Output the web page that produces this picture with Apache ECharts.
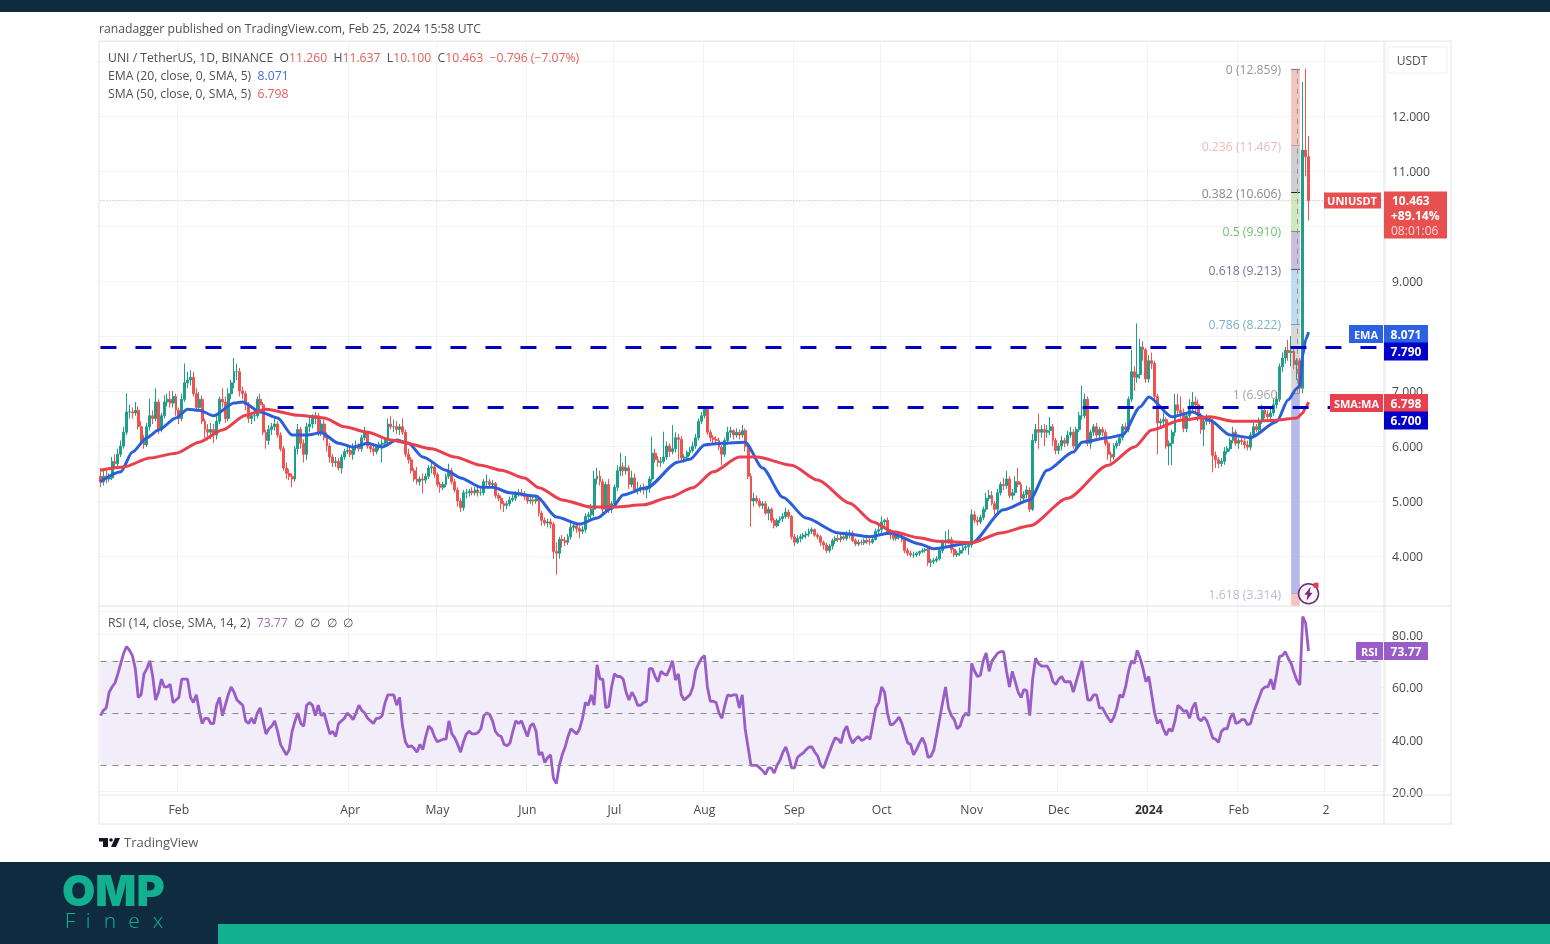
<!DOCTYPE html>
<html>
<head>
<meta charset="utf-8">
<title>UNI / TetherUS</title>
<script src="https://cdn.jsdelivr.net/npm/echarts@6/dist/echarts.min.js"></script>
<style>
  html, body { margin: 0; padding: 0; background: #fff; }
  #chart { width: 1550px; height: 944px; }
</style>
</head>
<body>
<div id="chart"></div>
<script>
// daily candles from 2023-01-05
const opens = [
  5.45,5.35,5.45,5.40,5.42,5.72,5.68,5.85,6.00,6.25,
  6.62,6.62,6.60,6.65,6.35,6.08,6.02,6.35,6.55,6.50,
  6.80,6.30,6.55,6.80,6.85,6.78,6.90,6.65,6.50,6.85,
  7.15,7.20,7.25,6.95,6.70,6.85,6.45,6.30,6.25,6.30,
  6.20,6.45,6.85,6.80,6.50,6.95,7.15,7.35,7.35,7.00,
  6.95,6.75,6.50,6.55,6.55,6.85,6.75,6.25,6.10,6.30,
  6.35,6.40,6.20,5.95,5.60,5.50,5.45,5.40,5.95,6.30,
  6.05,5.85,6.35,6.40,6.50,6.55,6.25,6.40,6.15,6.00,
  5.80,5.70,5.72,5.60,5.80,5.90,5.92,5.85,5.98,6.00,
  5.95,6.15,6.25,6.00,5.95,5.90,5.98,6.03,6.05,6.10,
  6.40,6.35,6.35,6.30,6.35,6.25,5.85,5.75,5.55,5.40,
  5.35,5.40,5.38,5.45,5.60,5.62,5.48,5.30,5.25,5.30,
  5.45,5.55,5.35,5.20,5.00,4.88,5.15,5.15,5.18,5.15,
  5.20,5.15,5.15,5.35,5.35,5.30,5.32,5.10,5.05,4.95,
  4.92,4.95,5.02,5.05,5.13,5.15,5.12,5.08,5.00,5.02,
  5.00,5.05,4.78,4.65,4.60,4.62,4.58,4.08,4.05,4.30,
  4.28,4.25,4.35,4.52,4.55,4.50,4.45,4.48,4.72,4.75,
  4.85,5.40,5.45,5.35,4.85,5.30,4.85,4.95,5.25,5.55,
  5.62,5.55,5.60,5.30,5.42,5.20,5.22,5.25,5.20,5.23,
  5.40,5.87,5.75,5.70,5.72,5.80,6.00,5.90,5.95,6.15,
  6.12,5.78,5.80,5.88,5.92,6.00,6.15,6.45,6.55,6.68,
  6.25,6.15,6.12,6.10,5.98,5.85,6.10,6.25,6.28,6.20,
  6.25,6.20,6.28,5.99,5.45,5.00,5.05,5.00,4.92,4.95,
  4.78,4.85,4.65,4.55,4.65,4.68,4.72,4.80,4.72,4.35,
  4.25,4.32,4.35,4.38,4.40,4.45,4.48,4.38,4.35,4.25,
  4.20,4.10,4.18,4.28,4.32,4.30,4.35,4.32,4.38,4.42,
  4.28,4.22,4.25,4.24,4.28,4.26,4.25,4.30,4.45,4.48,
  4.62,4.65,4.42,4.38,4.32,4.36,4.38,4.30,4.10,4.05,
  4.02,4.02,4.05,4.08,4.10,4.12,3.88,3.90,3.92,3.95,
  4.10,4.25,4.28,4.30,4.12,4.02,4.05,4.10,4.15,4.17,
  4.20,4.75,4.65,4.62,4.70,4.85,5.05,5.10,4.95,4.85,
  5.15,5.30,5.28,5.40,5.10,5.15,5.35,5.30,5.05,5.12,
  5.20,4.85,6.10,6.30,6.25,6.30,6.25,6.28,6.35,6.10,
  5.92,6.00,6.10,6.05,6.20,6.25,6.00,6.30,6.55,6.55,
  6.85,6.05,6.25,6.35,6.20,6.30,6.25,6.05,5.85,5.80,
  6.00,6.05,6.15,6.35,6.30,6.85,7.35,7.25,7.30,7.80,
  7.75,7.22,7.55,7.50,6.90,6.42,6.45,6.48,6.00,6.05,
  6.25,6.75,6.65,6.60,6.32,6.55,6.70,6.80,6.75,6.55,
  6.30,6.45,6.50,6.45,5.83,5.75,5.68,5.72,5.90,5.95,
  6.10,6.25,6.05,6.10,6.08,6.02,5.98,6.20,6.35,6.30,
  6.45,6.65,6.58,6.53,6.60,6.75,6.85,7.44,7.60,7.74,
  7.70,7.72,7.48,7.55,7.05,11.38,11.26
]
const closes = [
  5.35,5.45,5.40,5.42,5.72,5.68,5.85,6.00,6.25,6.62,
  6.62,6.60,6.65,6.35,6.08,6.02,6.35,6.55,6.50,6.80,
  6.30,6.55,6.80,6.85,6.78,6.90,6.65,6.50,6.85,7.15,
  7.20,7.25,6.95,6.70,6.85,6.45,6.30,6.25,6.30,6.20,
  6.45,6.85,6.80,6.50,6.95,7.15,7.35,7.35,7.00,6.95,
  6.75,6.50,6.55,6.55,6.85,6.75,6.25,6.10,6.30,6.35,
  6.40,6.20,5.95,5.60,5.50,5.45,5.40,5.95,6.30,6.05,
  5.85,6.35,6.40,6.50,6.55,6.25,6.40,6.15,6.00,5.80,
  5.70,5.72,5.60,5.80,5.90,5.92,5.85,5.98,6.00,5.95,
  6.15,6.25,6.00,5.95,5.90,5.98,6.03,6.05,6.10,6.40,
  6.35,6.35,6.30,6.35,6.25,5.85,5.75,5.55,5.40,5.35,
  5.40,5.38,5.45,5.60,5.62,5.48,5.30,5.25,5.30,5.45,
  5.55,5.35,5.20,5.00,4.88,5.15,5.15,5.18,5.15,5.20,
  5.15,5.15,5.35,5.35,5.30,5.32,5.10,5.05,4.95,4.92,
  4.95,5.02,5.05,5.13,5.15,5.12,5.08,5.00,5.02,5.00,
  5.05,4.78,4.65,4.60,4.62,4.58,4.08,4.05,4.30,4.28,
  4.25,4.35,4.52,4.55,4.50,4.45,4.48,4.72,4.75,4.85,
  5.40,5.45,5.35,4.85,5.30,4.85,4.95,5.25,5.55,5.62,
  5.55,5.60,5.30,5.42,5.20,5.22,5.25,5.20,5.23,5.40,
  5.87,5.75,5.70,5.72,5.80,6.00,5.90,5.95,6.15,6.12,
  5.78,5.80,5.88,5.92,6.00,6.15,6.45,6.55,6.68,6.25,
  6.15,6.12,6.10,5.98,5.85,6.10,6.25,6.28,6.20,6.25,
  6.20,6.28,5.99,5.45,5.00,5.05,5.00,4.92,4.95,4.78,
  4.85,4.65,4.55,4.65,4.68,4.72,4.80,4.72,4.35,4.25,
  4.32,4.35,4.38,4.40,4.45,4.48,4.38,4.35,4.25,4.20,
  4.10,4.18,4.28,4.32,4.30,4.35,4.32,4.38,4.42,4.28,
  4.22,4.25,4.24,4.28,4.26,4.25,4.30,4.45,4.48,4.62,
  4.65,4.42,4.38,4.32,4.36,4.38,4.30,4.10,4.05,4.02,
  4.02,4.05,4.08,4.10,4.12,3.88,3.90,3.92,3.95,4.10,
  4.25,4.28,4.30,4.12,4.02,4.05,4.10,4.15,4.17,4.20,
  4.75,4.65,4.62,4.70,4.85,5.05,5.10,4.95,4.85,5.15,
  5.30,5.28,5.40,5.10,5.15,5.35,5.30,5.05,5.12,5.20,
  4.85,6.10,6.30,6.25,6.30,6.25,6.28,6.35,6.10,5.92,
  6.00,6.10,6.05,6.20,6.25,6.00,6.30,6.55,6.55,6.85,
  6.05,6.25,6.35,6.20,6.30,6.25,6.05,5.85,5.80,6.00,
  6.05,6.15,6.35,6.30,6.85,7.35,7.25,7.30,7.80,7.75,
  7.22,7.55,7.50,6.90,6.42,6.45,6.48,6.00,6.05,6.25,
  6.75,6.65,6.60,6.32,6.55,6.70,6.80,6.75,6.55,6.30,
  6.45,6.50,6.45,5.83,5.75,5.68,5.72,5.90,5.95,6.10,
  6.25,6.05,6.10,6.08,6.02,5.98,6.20,6.35,6.30,6.45,
  6.65,6.58,6.53,6.60,6.75,6.85,7.44,7.60,7.74,7.70,
  7.72,7.48,7.55,7.05,11.38,11.26,10.463
]
const highs = [
  5.60,5.55,5.55,5.50,5.80,5.85,5.95,6.10,6.35,6.96,
  6.75,6.70,6.80,6.72,6.45,6.20,6.42,6.86,6.65,7.05,
  6.85,6.60,6.92,6.95,7.00,7.00,6.95,6.70,6.95,7.50,
  7.35,7.38,7.35,7.05,6.98,6.92,6.50,6.40,6.42,6.40,
  6.55,6.90,7.05,6.90,7.05,7.20,7.60,7.50,7.42,7.08,
  7.00,6.80,6.62,6.65,6.90,6.95,6.80,6.30,6.38,6.42,
  6.50,6.45,6.25,6.00,5.70,5.58,5.50,6.00,6.40,6.35,
  6.12,6.42,6.55,6.58,6.62,6.60,6.48,6.48,6.25,6.05,
  5.85,5.80,5.78,5.85,5.95,6.00,6.00,6.05,6.10,6.05,
  6.20,6.35,6.28,6.05,6.02,6.02,6.08,6.12,6.15,6.50,
  6.55,6.48,6.45,6.40,6.50,6.30,5.95,5.80,5.60,5.62,
  5.45,5.50,5.50,5.65,5.70,5.68,5.52,5.35,5.35,5.50,
  5.68,5.60,5.40,5.25,5.05,5.20,5.22,5.22,5.25,5.25,
  5.25,5.22,5.40,5.48,5.40,5.38,5.35,5.15,5.10,5.00,
  5.00,5.08,5.12,5.18,5.22,5.22,5.18,5.12,5.08,5.08,
  5.10,5.10,4.82,4.70,4.68,4.68,4.62,4.25,4.35,4.38,
  4.35,4.40,4.60,4.62,4.62,4.55,4.55,4.78,4.80,4.95,
  5.55,5.60,5.55,5.40,5.35,5.40,5.00,5.30,5.65,5.88,
  5.70,5.82,5.65,5.55,5.50,5.35,5.30,5.32,5.28,5.45,
  6.17,5.95,5.82,5.80,6.26,6.08,6.05,6.38,6.25,6.22,
  6.18,5.85,5.92,5.98,6.08,6.22,6.50,6.62,6.70,6.70,
  6.30,6.20,6.18,6.15,6.02,6.15,6.35,6.35,6.30,6.32,
  6.30,6.38,6.32,6.02,5.50,5.15,5.10,5.05,5.00,5.00,
  4.90,4.88,4.70,4.68,4.72,4.78,4.88,4.85,4.75,4.40,
  4.38,4.40,4.42,4.45,4.50,4.52,4.50,4.42,4.38,4.28,
  4.24,4.22,4.32,4.36,4.38,4.40,4.40,4.45,4.48,4.46,
  4.32,4.30,4.30,4.32,4.33,4.32,4.35,4.50,4.55,4.72,
  4.68,4.70,4.48,4.42,4.40,4.42,4.42,4.35,4.15,4.10,
  4.08,4.08,4.10,4.14,4.15,4.15,3.95,3.96,4.00,4.15,
  4.30,4.45,4.48,4.35,4.15,4.10,4.15,4.20,4.22,4.25,
  4.85,4.82,4.72,4.75,4.90,5.15,5.20,5.18,5.00,5.22,
  5.35,5.42,5.55,5.45,5.22,5.45,5.60,5.35,5.18,5.28,
  5.25,6.22,6.40,6.59,6.38,6.40,6.38,6.53,6.40,6.15,
  6.05,6.18,6.15,6.28,6.35,6.30,6.35,6.62,7.10,6.95,
  6.90,6.30,6.40,6.42,6.35,6.35,6.30,6.10,5.90,6.05,
  6.10,6.20,6.40,6.42,6.90,7.75,7.45,8.23,7.95,7.90,
  7.78,7.65,7.70,7.55,6.95,6.50,6.60,6.52,6.10,6.30,
  6.95,6.95,6.90,6.68,6.62,6.85,6.98,6.90,6.85,6.60,
  6.50,6.58,6.55,6.50,5.90,5.80,5.78,5.98,6.00,6.15,
  6.35,6.30,6.15,6.18,6.15,6.10,6.25,6.42,6.40,6.52,
  6.75,6.72,6.65,6.68,6.85,6.98,7.50,7.70,7.80,7.93,
  8.00,7.78,7.60,7.60,12.62,12.859,11.637
]
const lows = [
  5.25,5.28,5.32,5.35,5.38,5.60,5.62,5.80,5.95,6.20,
  6.50,6.50,6.55,6.30,6.02,5.95,5.98,6.28,6.40,6.45,
  6.22,6.25,6.50,6.72,6.70,6.70,6.55,6.40,6.45,6.80,
  7.05,7.10,6.90,6.62,6.65,6.40,6.15,6.10,6.12,6.05,
  6.12,6.40,6.70,6.42,6.45,6.85,7.05,7.20,6.90,6.85,
  6.65,6.42,6.40,6.45,6.50,6.65,6.20,5.95,6.02,6.20,
  6.28,6.15,5.90,5.55,5.40,5.38,5.25,5.35,5.85,5.95,
  5.70,5.75,6.25,6.32,6.40,6.18,6.18,6.10,5.90,5.70,
  5.62,5.62,5.55,5.50,5.75,5.85,5.80,5.75,5.92,5.90,
  5.90,6.10,5.95,5.88,5.82,5.85,5.92,5.70,6.00,6.05,
  6.30,6.25,6.22,6.20,6.20,5.80,5.68,5.50,5.35,5.30,
  5.28,5.14,5.32,5.40,5.50,5.42,5.25,5.15,5.20,5.25,
  5.40,5.30,5.15,4.90,4.80,4.82,5.05,5.08,5.10,5.10,
  5.08,5.10,5.10,5.28,5.25,5.25,5.05,5.00,4.85,4.80,
  4.85,4.90,4.98,5.00,5.08,5.08,5.02,4.95,4.95,4.92,
  4.95,4.72,4.55,4.55,4.52,4.50,3.95,3.66,3.95,4.15,
  4.18,4.20,4.30,4.45,4.42,4.32,4.40,4.42,4.65,4.65,
  4.72,5.30,5.28,4.75,4.80,4.78,4.78,4.88,5.18,5.45,
  5.45,5.48,5.22,5.25,5.15,5.12,5.15,5.12,5.05,5.15,
  5.35,5.70,5.62,5.62,5.68,5.75,5.80,5.85,5.88,5.75,
  5.72,5.70,5.75,5.82,5.88,5.95,6.10,6.40,6.50,6.20,
  6.08,6.05,6.05,5.92,5.65,5.80,6.02,6.15,6.12,6.15,
  6.12,6.15,5.90,5.40,4.53,4.90,4.95,4.88,4.85,4.75,
  4.65,4.60,4.50,4.52,4.60,4.62,4.68,4.68,4.30,4.18,
  4.22,4.25,4.30,4.32,4.35,4.40,4.35,4.30,4.18,4.12,
  4.05,4.06,4.12,4.22,4.25,4.25,4.28,4.28,4.32,4.25,
  4.18,4.18,4.20,4.20,4.22,4.20,4.22,4.28,4.40,4.42,
  4.55,4.38,4.30,4.28,4.28,4.30,4.25,4.05,4.00,3.98,
  3.96,3.98,4.00,4.05,4.06,3.82,3.80,3.85,3.88,3.92,
  4.05,4.18,4.22,4.05,3.98,3.98,4.00,4.05,4.10,4.02,
  4.15,4.60,4.55,4.58,4.65,4.80,5.00,4.92,4.75,4.80,
  5.10,5.20,5.22,5.05,5.02,5.10,5.25,4.95,5.00,5.05,
  4.80,4.82,6.05,5.95,6.15,6.00,6.15,6.20,6.00,5.85,
  5.85,5.92,5.98,6.00,6.15,5.95,5.95,6.25,6.48,6.50,
  6.00,5.95,6.18,6.15,6.12,6.18,6.00,5.75,5.70,5.75,
  5.95,6.00,6.10,6.25,6.25,6.80,7.00,7.15,7.22,7.55,
  7.15,7.15,7.40,6.85,5.85,6.35,6.35,5.95,5.65,5.65,
  6.18,6.55,6.50,6.25,6.25,6.45,6.62,6.60,6.45,6.22,
  6.00,6.38,6.40,5.52,5.60,5.60,5.62,5.66,5.85,5.90,
  6.05,6.00,5.95,6.02,5.95,5.92,5.92,6.15,6.25,6.25,
  6.40,6.50,6.48,6.45,6.55,6.68,6.80,7.35,7.50,7.55,
  7.45,7.40,7.20,6.96,6.96,10.90,10.10
]
const rsiValues = [
  49,51,52,58,60,61.5,65,69,73,75.5,
  74,72,67,56,57,65,67,70,64,55,
  58,63,60,60,61,54,55,56,63,63,
  63,56,54,57,51,46,48,48,46,46,
  53,56,49,53,57,60,58,55,54,53,
  47,46,48,46,50,52,47,42,44,45,
  47,43,38,36,34,36,43,47,50,46,
  45,53,54,53,49,53,49,50,46,42,
  43,41,46,47,48,50,49,47.5,50,53,
  51,50,48,47,46,48,48,49,54,57,
  57,57,53,56,45,39,37,37.5,36.5,35,
  38,36,41,45,44,41,39,39.5,40,40,
  47,42,40.5,38,35,39,42,43,42,42,
  42.5,44,49,50,49.5,47,43,41.5,41,38,
  37.5,38.5,43,47,46,47,44,41,45,46,
  43,34,35,31,33,34,25,23,30,34,
  37,41,44,43,42,44,48,54,53,57,
  53,68.5,63,63,52,52.5,60,65,64,64,
  63,58,55,58,56,53,53,54,54.5,67,
  67,64,62,66,65,64.5,67,70,62.6,65,
  57,55,56,57,60,66.5,69,71,72,60,
  54.5,54.5,54,50,48,53,57,56.5,57,57,
  52,57,44,37,30,30,30,29,28,26.5,
  29,29,27,30,32,35,37,33.5,29,29,
  33,34,34.7,36,37,37,35,33.5,30,29,
  32,35,38,40.5,40,38.5,43,45,41,38.5,
  40,41,39.5,40,41,40,46,52,54,60,
  58,50,45.5,45.8,47,48.5,46,42,38.5,38,
  34,36,38.5,40.5,38,33,33.5,36,42,48,
  54,60,52,49,47.5,44,45,48.5,50,49,
  69,66,64,64.5,70,73,66,70,71.5,73,
  73.5,73.5,66,60,66,62,58,56,59,58.5,
  49,63,71,69,68,68,68,66,62,61,
  63,64,62,62,62,58,62,66,70,62,
  55,55,57,57,52,52,50,48,46.5,48.5,
  52,57,56,60,66,70,69,74,71,67,
  62,64,57,50,46,47.5,44,41.5,44,43,
  47,53,52,50.6,51,48,52,54,48,47,
  48.5,47,44,40.5,40,38.8,43,44,44,48,
  50,46,46.5,47.5,47.5,45.5,46,50,53,56,
  59,60,60,63,59,65,71.7,72,73.5,71,
  69,65.5,62.5,60.8,87,84.4,73.77
]

// moving averages: day number and value, read at the bends of each line
const emaDays = [0,7,11,16,20,26,30,34,39,46,49,55,61,66,71,76,82,87,92,97,102,106,111,119,124,131,135,141,150,157,165,171,176,180,188,199,203,208,214,222,228,235,243,254,265,272,282,287,300,311,320,326,335,338,347,352,358,361,369,376,382,389,396,405,409,412,413,414,415,416]
const emaValues = [5.35,5.53,5.89,6.15,6.29,6.51,6.67,6.65,6.55,6.78,6.80,6.62,6.51,6.20,6.20,6.24,6.05,5.98,6.05,5.98,6.11,6.05,5.80,5.56,5.42,5.25,5.25,5.15,5.09,4.71,4.58,4.69,4.87,5.11,5.24,5.71,5.76,6.02,6.05,6.07,5.60,5.07,4.69,4.42,4.35,4.42,4.22,4.13,4.24,4.84,5.02,5.56,5.89,6.07,6.15,6.20,6.71,6.89,6.53,6.62,6.47,6.20,6.15,6.44,6.84,7.05,7.10,7.65,7.93,8.071]
const smaDays = [0,8,17,26,34,42,50,57,68,77,84,92,100,104,114,122,131,138,146,151,159,169,177,187,196,204,211,220,226,238,247,258,266,273,282,288,300,310,320,333,347,356,362,372,382,390,397,405,412,414,415,416]
const smaValues = [5.56,5.62,5.78,5.87,6.07,6.29,6.56,6.67,6.56,6.51,6.35,6.25,6.11,6.07,5.95,5.80,5.65,5.56,5.42,5.24,5.02,4.89,4.89,4.93,5.07,5.24,5.53,5.80,5.80,5.65,5.38,4.96,4.62,4.44,4.33,4.27,4.24,4.42,4.55,5.05,5.65,5.98,6.29,6.47,6.53,6.45,6.45,6.47,6.51,6.60,6.70,6.798]

const fibRatios = ['0','0.236','0.382','0.5','0.618','0.786','1','1.618']
const fibPrices = [12.859,11.467,10.606,9.910,9.213,8.222,6.960,3.314]
const fibTextColors = ['#787b86','#e6aaa5','#666a72','#4caf50','#5c4f85','#5a9dbd','#8f8f8f','#a9a9c9']
const fibBandColors = ['#f3c5bf','#cfccd4','#cfe8bd','#c9bde0','#bddcf0','#d9d6d6','#b7bae8','#f5c4bf']

const resistance = 7.79
const support = 6.7
const lastPrice = 10.463

const priceTickHidden = [8, 10]
const xTickLabels = {
  '2023-02-01': 'Feb', '2023-04-01': 'Apr', '2023-05-01': 'May', '2023-06-01': 'Jun',
  '2023-07-01': 'Jul', '2023-08-01': 'Aug', '2023-09-01': 'Sep', '2023-10-01': 'Oct',
  '2023-11-01': 'Nov', '2023-12-01': 'Dec', '2024-01-01': '2024', '2024-02-01': 'Feb',
  '2024-03-02': '2'
}

// calendar of the axis, runs on past the last candle
const categories = []
for (let i = 0; i < 443; i++) {
  categories.push(new Date(Date.UTC(2023, 0, 5 + i)).toISOString().slice(0, 10))
}

const TEXT = '"Open Sans", "Noto Sans", sans-serif'
const GRID = '#f3f3f3'
const LINE = '#e4e4e4'
const lastDay = closes.length - 1
const fibFrom = 410
const fibTo = 413
const paneBottomPrice = 3.09

const candles = opens.map((o, i) => [o, closes[i], lows[i], highs[i]])
const pair = (days, values) => days.map((d, i) => [d, values[i]])

const fibBandEdges = [...fibPrices, paneBottomPrice]
const fibBands = fibBandColors.map((color, i) => [
  { xAxis: fibFrom, yAxis: fibBandEdges[i], itemStyle: { color: color, opacity: 1 } },
  { xAxis: fibTo, yAxis: fibBandEdges[i + 1] }
])
const fibTicks = fibPrices.map((p, i) => [
  { coord: [fibFrom, p], lineStyle: { color: i === 1 ? '#d09a96' : fibTextColors[i] === '#666a72' ? '#222' : fibTextColors[i], width: 1, type: 'solid' } },
  { coord: [fibTo, p] }
])
const fibPoints = fibPrices.map((p, i) => ({
  value: [fibFrom, p],
  label: {
    show: true,
    position: 'left',
    distance: 10,
    verticalAlign: 'top',
    lineHeight: 4,
    formatter: fibRatios[i] + ' (' + p.toFixed(3) + ')',
    color: fibTextColors[i],
    fontFamily: TEXT,
    fontSize: 12.2
  }
}))

const chart = echarts.init(document.getElementById('chart'))

chart.setOption({
  animation: false,
  backgroundColor: '#fff',
  grid: [
    { left: 99, top: 41, width: 1286.5, height: 570 },
    { left: 99, top: 606, width: 1286.5, height: 185.4 }
  ],
  xAxis: [
    {
      type: 'category',
      gridIndex: 0,
      data: categories,
      axisLine: { show: false },
      axisTick: { show: false },
      axisLabel: { show: false },
      splitLine: {
        show: true,
        interval: (idx, value) => value in xTickLabels,
        lineStyle: { color: GRID }
      }
    },
    {
      type: 'category',
      gridIndex: 1,
      data: categories,
      offset: 4,
      axisLine: { show: false },
      axisTick: { show: false },
      axisLabel: {
        interval: (idx, value) => value in xTickLabels,
        formatter: value => xTickLabels[value] === '2024' ? '{b|2024}' : xTickLabels[value],
        color: '#4a4a4a',
        fontFamily: TEXT,
        fontSize: 12.2,
        margin: 9,
        rich: { b: { fontWeight: 'bold', color: '#333', fontFamily: TEXT, fontSize: 12.2 } }
      },
      splitLine: {
        show: true,
        interval: (idx, value) => value in xTickLabels,
        lineStyle: { color: GRID }
      }
    }
  ],
  yAxis: [
    {
      type: 'value',
      gridIndex: 0,
      position: 'right',
      min: 3,
      max: 13.364,
      interval: 1,
      axisLine: { show: false },
      axisTick: { show: false },
      axisLabel: {
        showMinLabel: false,
        showMaxLabel: false,
        margin: 6.5,
        verticalAlign: 'top',
        lineHeight: 4,
        color: '#4a4a4a',
        fontFamily: TEXT,
        fontSize: 12.2,
        formatter: v => priceTickHidden.includes(v) ? '' : v.toFixed(3)
      },
      splitLine: { lineStyle: { color: GRID } }
    },
    {
      type: 'value',
      gridIndex: 1,
      position: 'right',
      min: 20,
      max: 91,
      interval: 20,
      axisLine: { show: false },
      axisTick: { show: false },
      axisLabel: {
        showMaxLabel: false,
        margin: 6.5,
        verticalAlign: 'top',
        lineHeight: 4,
        color: '#4a4a4a',
        fontFamily: TEXT,
        fontSize: 12.2,
        formatter: v => v.toFixed(2)
      },
      splitLine: { lineStyle: { color: GRID } }
    }
  ],
  series: [
    {
      name: 'UNIUSDT',
      type: 'candlestick',
      xAxisIndex: 0,
      yAxisIndex: 0,
      barWidth: 2.4,
      data: candles,
      itemStyle: {
        color: '#1f9e89',
        color0: '#ef5350',
        borderColor: '#1f9e89',
        borderColor0: '#ef5350',
        borderWidth: 1
      }
    },
    {
      name: 'Fib',
      type: 'scatter',
      xAxisIndex: 0,
      yAxisIndex: 0,
      symbolSize: 0,
      z: 3,
      data: fibPoints,
      markArea: { silent: true, data: fibBands },
      markLine: {
        silent: true,
        symbol: 'none',
        label: { show: false },
        data: [
          ...fibTicks,
          [
            { coord: [412, fibPrices[0]], lineStyle: { color: '#9a9494', width: 1, type: [5, 5] } },
            { coord: [412, fibPrices[6]] }
          ]
        ]
      }
    },
    {
      name: 'Price line',
      type: 'line',
      xAxisIndex: 0,
      yAxisIndex: 0,
      showSymbol: false,
      data: [[0, lastPrice], [442, lastPrice]],
      lineStyle: { color: '#e59a94', width: 1, type: [1, 2] },
      z: 2
    },
    {
      name: 'EMA',
      type: 'line',
      xAxisIndex: 0,
      yAxisIndex: 0,
      showSymbol: false,
      smooth: 0.25,
      smoothMonotone: 'x',
      data: pair(emaDays, emaValues),
      lineStyle: { color: '#2b5fd9', width: 3 },
      z: 5
    },
    {
      name: 'SMA',
      type: 'line',
      xAxisIndex: 0,
      yAxisIndex: 0,
      showSymbol: false,
      smooth: 0.25,
      smoothMonotone: 'x',
      data: pair(smaDays, smaValues),
      lineStyle: { color: '#e8404f', width: 3 },
      z: 5
    },
    {
      name: 'Resistance',
      type: 'line',
      xAxisIndex: 0,
      yAxisIndex: 0,
      showSymbol: false,
      data: [[0, resistance], [441, resistance]],
      lineStyle: { color: '#0000c4', width: 3, type: [16, 19] },
      z: 6
    },
    {
      name: 'Support',
      type: 'line',
      xAxisIndex: 0,
      yAxisIndex: 0,
      showSymbol: false,
      data: [[61, support], [441, support]],
      lineStyle: { color: '#0000c4', width: 3, type: [16, 19] },
      z: 6
    },
    {
      name: 'RSI',
      type: 'line',
      xAxisIndex: 1,
      yAxisIndex: 1,
      showSymbol: false,
      data: rsiValues,
      lineStyle: { color: '#9a5cc6', width: 2.8 },
      markArea: {
        silent: true,
        itemStyle: { color: '#f1edf9', opacity: 1 },
        data: [[{ xAxis: 0, yAxis: 70 }, { xAxis: 441, yAxis: 30 }]]
      },
      markLine: {
        silent: true,
        symbol: 'none',
        label: { show: false },
        lineStyle: { color: '#8a8a8a', width: 1, type: [6, 6] },
        data: [70, 50, 30].map(v => [{ coord: [0, v] }, { coord: [441, v] }])
      }
    }
  ]
})

// page furniture and tags, placed after the scales exist
const yPrice = v => chart.convertToPixel({ yAxisIndex: 0 }, v)
const yRsi = v => chart.convertToPixel({ yAxisIndex: 1 }, v)
const xDay = d => chart.convertToPixel({ xAxisIndex: 0 }, d)

const rect = (x, y, w, h, fill, stroke) => ({
  type: 'rect',
  silent: true,
  shape: { x, y, width: w, height: h },
  style: { fill: fill || 'transparent', stroke: stroke || 'none', lineWidth: 1 },
  z: 1
})
const text = (x, y, str, fill, font, align) => ({
  type: 'text',
  silent: true,
  x,
  y: y + 1.5,
  z: 12,
  style: {
    text: str,
    fill,
    font: font || '12.2px ' + TEXT,
    align: align || 'left',
    verticalAlign: 'middle',
    textAlign: align || 'left',
    textVerticalAlign: 'middle'
  }
})
const box = (x, y, w, h, fill) => Object.assign(rect(x, y, w, h, fill), { z: 11 })

// tag beside the axis, centred on its value
function tag(y, name, nameX, value, color) {
  const items = [box(1384, y - 9, 44, 18, color), text(1406, y, value, '#fff', 'bold 12px ' + TEXT, 'center')]
  if (name) {
    items.push(box(nameX, y - 9, 1383 - nameX, 18, color))
    items.push(text((nameX + 1383) / 2, y, name, '#fff', 'bold 11px ' + TEXT, 'center'))
  }
  return items
}

const legendRow = (y, parts) => {
  let s = ''
  const rich = {}
  parts.forEach((p, i) => {
    s += '{t' + i + '|' + p[0] + '}'
    rich['t' + i] = { fill: p[1], color: p[1], font: '12.2px ' + TEXT }
  })
  return {
    type: 'text',
    silent: true,
    x: 108,
    y: y + 1.5,
    z: 12,
    style: { text: s, rich, verticalAlign: 'middle', textVerticalAlign: 'middle' }
  }
}

const DARK = '#0f2b40'
const TEAL = '#12b08f'
const GREY = '#4f4f4f'
const RED = '#e2605c'
const ICON = '#6b2d7e'
const brandLetters = [['F', 70], ['i', 88], ['n', 110], ['e', 134], ['x', 158]]
const iconX = xDay(lastDay)
const iconY = yPrice(fibPrices[7])

const elements = [
  rect(0, 0, 1550, 12, DARK),
  rect(0, 862, 1550, 82, DARK),
  rect(218, 924, 1332, 20, TEAL),
  text(62, 892, 'OMP', TEAL, '900 43px Inter'),
  ...brandLetters.map(l => text(l[1], 921, l[0], TEAL, '300 21px ' + TEXT, 'center')),

  rect(99, 41, 1352, 783, 'transparent', LINE),
  { type: 'line', silent: true, z: 10, shape: { x1: 1384, y1: 41, x2: 1384, y2: 824 }, style: { stroke: LINE } },
  { type: 'line', silent: true, z: 10, shape: { x1: 99, y1: 606, x2: 1451, y2: 606 }, style: { stroke: LINE } },
  { type: 'line', silent: true, z: 10, shape: { x1: 99, y1: 795, x2: 1451, y2: 795 }, style: { stroke: LINE } },

  text(99, 28, 'ranadagger published on TradingView.com, Feb 25, 2024 15:58 UTC', GREY),
  legendRow(57, [
    ['UNI / TetherUS, 1D, BINANCE  O', GREY], ['11.260', RED], ['  H', GREY], ['11.637', RED],
    ['  L', GREY], ['10.100', RED], ['  C', GREY], ['10.463  −0.796 (−7.07%)', RED]
  ]),
  legendRow(75, [['EMA (20, close, 0, SMA, 5)  ', GREY], ['8.071', '#3f6fd8']]),
  legendRow(93, [['SMA (50, close, 0, SMA, 5)  ', GREY], ['6.798', RED]]),
  legendRow(622, [['RSI (14, close, SMA, 14, 2)  ', GREY], ['73.77', '#9a6cc0'], ['  ∅  ∅  ∅  ∅', GREY]]),

  Object.assign(rect(1388, 47, 59, 26, '#fff', '#eeeeee'), { z: 11 }),
  text(1412, 60, 'USDT', GREY, '12px ' + TEXT, 'center'),

  box(1324, yPrice(lastPrice) - 8, 57, 16, '#e8504f'),
  text(1352, yPrice(lastPrice), 'UNIUSDT', '#fff', 'bold 11px ' + TEXT, 'center'),
  box(1384, yPrice(lastPrice) - 9, 63, 47, '#e8504f'),
  text(1392, yPrice(lastPrice), '10.463', '#fff', 'bold 12px ' + TEXT),
  text(1391, yPrice(lastPrice) + 15, '+89.14%', '#fff', 'bold 12px ' + TEXT),
  text(1391, yPrice(lastPrice) + 30, '08:01:06', '#fbdcda', '12px ' + TEXT),

  ...tag(yPrice(8.071) + 2, 'EMA', 1349, '8.071', '#2b62e3'),
  ...tag(yPrice(resistance) + 4, '', 0, '7.790', '#0000c8'),
  ...tag(yPrice(6.798) + 1, 'SMA:MA', 1330, '6.798', '#e8404f'),
  ...tag(yPrice(support) + 13, '', 0, '6.700', '#0000c8'),
  ...tag(yRsi(73.77), 'RSI', 1356, '73.77', '#9a5cc6'),

  { type: 'circle', silent: true, z: 11, shape: { cx: iconX, cy: iconY, r: 10 }, style: { fill: '#fbf3fb', stroke: ICON, lineWidth: 1.5 } },
  {
    type: 'polygon',
    silent: true,
    z: 12,
    shape: { points: [[iconX + 2, iconY - 7], [iconX - 4, iconY + 1], [iconX - 1, iconY + 1], [iconX - 2, iconY + 7], [iconX + 4, iconY - 1], [iconX + 1, iconY - 1]] },
    style: { fill: ICON }
  },
  Object.assign(rect(iconX + 5, iconY - 11, 5, 5, '#e0405a'), { z: 12 }),

  rect(99, 838, 9, 3.5, '#131722'),
  rect(103, 838, 5, 9, '#131722'),
  { type: 'circle', silent: true, z: 1, shape: { cx: 111, cy: 840, r: 1.8 }, style: { fill: '#131722' } },
  { type: 'polygon', silent: true, z: 1, shape: { points: [[115, 838], [120, 838], [116, 847], [111, 847]] }, style: { fill: '#131722' } },
  text(124, 842, 'TradingView', '#5a5a5a', '13px ' + TEXT)
]

chart.setOption({ graphic: { elements } })
</script>
</body>
</html>
